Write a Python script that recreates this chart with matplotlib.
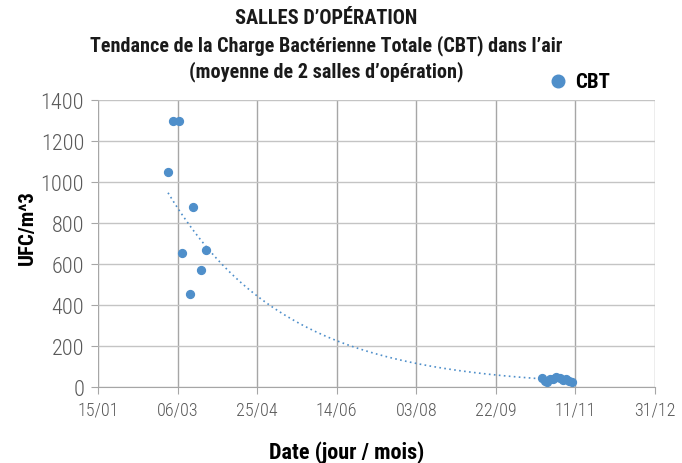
import numpy as np
import pandas as pd
import matplotlib
matplotlib.use("Agg")
from matplotlib import pyplot as plt
import matplotlib.dates as mdates

plt.rcParams['font.family'] = ['Roboto Condensed', 'Archivo Narrow', 'PT Sans Narrow',
                               'Liberation Sans Narrow', 'DejaVu Sans']

# donnees
dates = ["2015-02-28", "2015-03-03", "2015-03-07", "2015-03-09", "2015-03-14",
         "2015-03-16", "2015-03-21", "2015-03-24",
         "2015-10-21", "2015-10-23", "2015-10-24", "2015-10-26", "2015-10-28",
         "2015-10-30", "2015-11-01", "2015-11-03", "2015-11-05", "2015-11-07",
         "2015-11-09"]
cbt = [1050, 1300, 1300, 652, 455, 877, 572, 667,
       45, 30, 25, 40, 38, 48, 42, 35, 38, 30, 22]

tick_dates = ["2015-01-15", "2015-03-06", "2015-04-25", "2015-06-14",
              "2015-08-03", "2015-09-22", "2015-11-11", "2015-12-31"]

dates = pd.to_datetime(dates)
xnum = mdates.date2num(dates)

# tendance exponentielle (comme Excel)
b, lna = np.polyfit(xnum, np.log(cbt), 1)
xt = np.linspace(xnum.min(), xnum.max(), 200)
yt = np.exp(lna) * np.exp(b * xt)

fig = plt.figure(figsize=(6.82, 4.64), dpi=100)
ax = fig.add_axes([0.1437, 0.164, 0.8167, 0.618])

blue = '#4f8fca'
ax.scatter(dates, cbt, s=32, color=blue, zorder=3, label='CBT')
ax.plot(mdates.num2date(xt), yt, linestyle=(0, (1, 2)), color=blue, linewidth=1.2, zorder=2)

ticks = pd.to_datetime(tick_dates)
ax.set_xlim(ticks[0], ticks[-1])
ax.set_xticks(ticks)
ax.xaxis.set_major_formatter(mdates.DateFormatter('%d/%m'))
ax.set_ylim(0, 1400)
ax.set_yticks(range(0, 1401, 200))

ax.grid(True, axis='y', color='#c4c4c4', linewidth=1)
ax.grid(True, axis='x', color='#a6a6a6', linewidth=1)
ax.set_axisbelow(True)
for s in ['top', 'right', 'left']:
    ax.spines[s].set_visible(False)
ax.spines['bottom'].set_color('#a6a6a6')
ax.tick_params(axis='x', colors='#a6a6a6', labelcolor='#595959', labelsize=13, length=5, pad=5)
ax.tick_params(axis='y', colors='#a6a6a6', labelcolor='#595959', labelsize=16, length=5, pad=5)
for lab in ax.get_xticklabels() + ax.get_yticklabels():
    lab.set_fontweight(300)

ax.set_xlabel('Date (jour / mois)', fontsize=16, fontweight='bold', va='center')
ax.xaxis.set_label_coords(0.447, -0.226)
ax.set_ylabel('UFC/m^3', fontsize=15, fontweight='bold', va='center')
ax.yaxis.set_label_coords(-0.127, 0.56)

fig.text(0.478, 0.961, "SALLES D\u2019OP\u00c9RATION", ha='center', va='center',
         fontsize=14.7, fontweight='bold', color='#1a1a1a')
fig.text(0.478, 0.901, "Tendance de la Charge Bact\u00e9rienne Totale (CBT) dans l\u2019air",
         ha='center', va='center', fontsize=14.5, fontweight='bold', color='#1a1a1a')
fig.text(0.478, 0.845, "(moyenne de 2 salles d\u2019op\u00e9ration)",
         ha='center', va='center', fontsize=14.5, fontweight='bold', color='#1a1a1a')

ax.legend(loc='center left', bbox_to_anchor=(0.785, 0.823), bbox_transform=fig.transFigure,
          frameon=False, markerscale=1.6, handletextpad=0.2, borderpad=0,
          handlelength=1.2, prop={'weight': 'bold', 'size': 15})

plt.savefig("out.png", dpi=100)
